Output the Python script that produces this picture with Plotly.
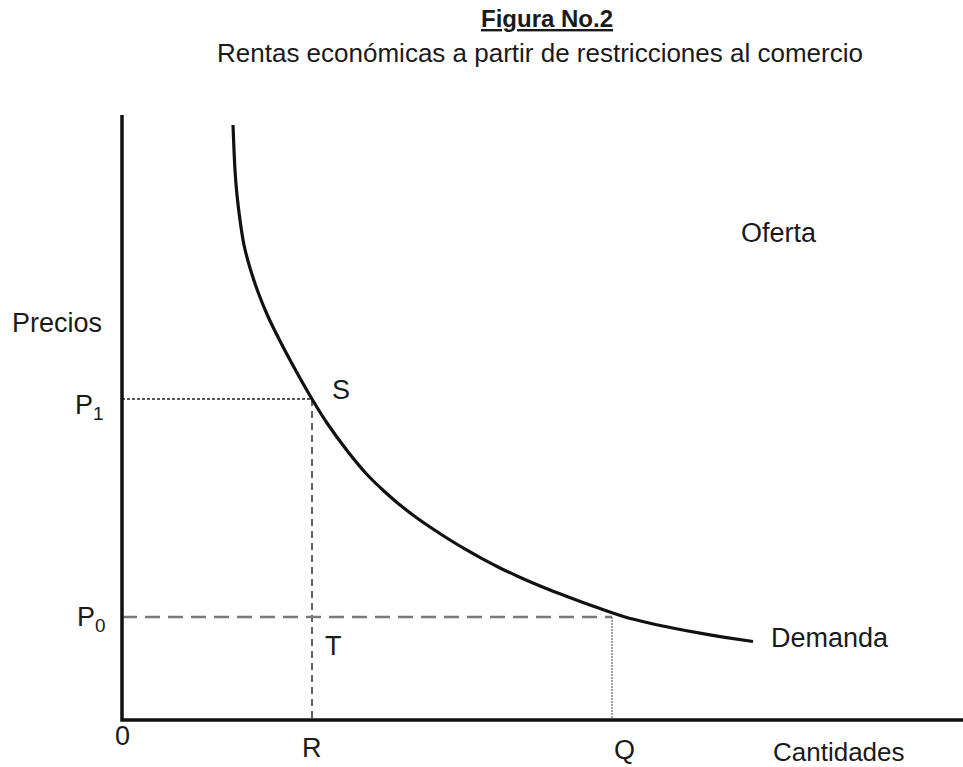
import plotly.graph_objects as go

# ---- data (arbitrary economic units) ----
demand_q = [11.1, 11.2, 11.3, 11.5, 11.8, 12.2, 12.8, 13.6, 14.6, 15.8, 17.1, 19.0,
            20.5, 22.5, 24.5, 26.3, 27.8, 29.5, 31.1, 32.8, 34.5, 36.1, 37.8, 39.5,
            41.1, 42.8, 44.5, 46.1, 47.8, 50.3, 52.8, 55.3, 57.8, 60.3, 63.1]
demand_p = [59.5, 57.0, 55.0, 52.5, 50.0, 47.5, 45.2, 42.8, 40.35, 37.9, 35.45, 32.1,
            29.7, 26.95, 24.55, 22.8, 21.5, 20.2, 19.1, 18.0, 16.98, 16.08, 15.2, 14.4,
            13.7, 13.0, 12.35, 11.75, 11.15, 10.3, 9.68, 9.15, 8.68, 8.27, 7.85]
R_q = 19.0
Q_q = 49.0
P1_p = 32.1
P0_p = 10.3
axis_top = 60.5
x_range = [-12.2, 84.1]
y_range = [-4.7, 72.0]

FONT = "Liberation Sans, Arial, sans-serif"
TXT = "#1a1a1a"

fig = go.Figure()

# reference lines
fig.add_trace(go.Scatter(x=[0, R_q], y=[P1_p, P1_p], mode="lines",
                         line=dict(color="#222", width=1.3, dash="3px,2px"), hoverinfo="skip"))
fig.add_trace(go.Scatter(x=[R_q, R_q], y=[P1_p, 0], mode="lines",
                         line=dict(color="#222", width=1.4, dash="7px,5px"), hoverinfo="skip"))
fig.add_trace(go.Scatter(x=[0, Q_q], y=[P0_p, P0_p], mode="lines",
                         line=dict(color="#7a7a7a", width=2.6, dash="15px,8px"), hoverinfo="skip"))
fig.add_trace(go.Scatter(x=[Q_q, Q_q], y=[P0_p, 0], mode="lines",
                         line=dict(color="#666", width=1.2, dash="2px,1px"), hoverinfo="skip"))

# demand curve
fig.add_trace(go.Scatter(x=demand_q, y=demand_p, mode="lines",
                         line=dict(color="#111", width=3.2, shape="spline", smoothing=0.8),
                         hoverinfo="skip"))

# axes
fig.add_trace(go.Scatter(x=[0, 0, x_range[1]], y=[axis_top, 0, 0], mode="lines",
                         line=dict(color="#111", width=3.5), hoverinfo="skip"))

def txt(x, y, s, size=27, xanchor="center", ref="data"):
    if ref == "data":
        fig.add_annotation(x=x, y=y, xref="x", yref="y", text=s, showarrow=False,
                           font=dict(family=FONT, size=size, color=TXT), xanchor=xanchor)
    else:
        fig.add_annotation(x=x / 963, y=1 - y / 767, xref="paper", yref="paper", text=s,
                           showarrow=False, font=dict(family=FONT, size=size, color=TXT),
                           xanchor=xanchor, yanchor="middle")

# titles / labels (pixel positions)
txt(547, 18, "<b><u>Figura No.2</u></b>", size=24, ref="paper")
txt(540, 53, "Rentas económicas a partir de restricciones al comercio", size=26, ref="paper")
txt(779, 233, "Oferta", size=27, ref="paper")
txt(57, 323, "Precios", size=27, ref="paper")
txt(839, 752, "Cantidades", size=26, ref="paper")
txt(830, 638, "Demanda", size=27, ref="paper")

# point labels (data positions)
txt(-1.6, P1_p - 0.8, "P<sub>1</sub>", xanchor="right")
txt(-1.4, P0_p - 0.2, "P<sub>0</sub>", xanchor="right")
txt(R_q + 2.9, P1_p + 0.9, "S")
txt(R_q + 2.1, P0_p - 2.9, "T")
txt(0, -1.6, "0")
txt(R_q, -2.8, "R")
txt(Q_q + 1.2, -3.0, "Q")

fig.update_layout(
    width=963, height=767,
    margin=dict(l=0, r=0, t=0, b=0),
    paper_bgcolor="white", plot_bgcolor="white",
    showlegend=False,
    xaxis=dict(range=x_range, visible=False, fixedrange=True),
    yaxis=dict(range=y_range, visible=False, fixedrange=True),
)

fig.write_html("out.html", config={"displayModeBar": False},
               post_script="document.body.style.margin='0';document.body.style.overflow='hidden';")
